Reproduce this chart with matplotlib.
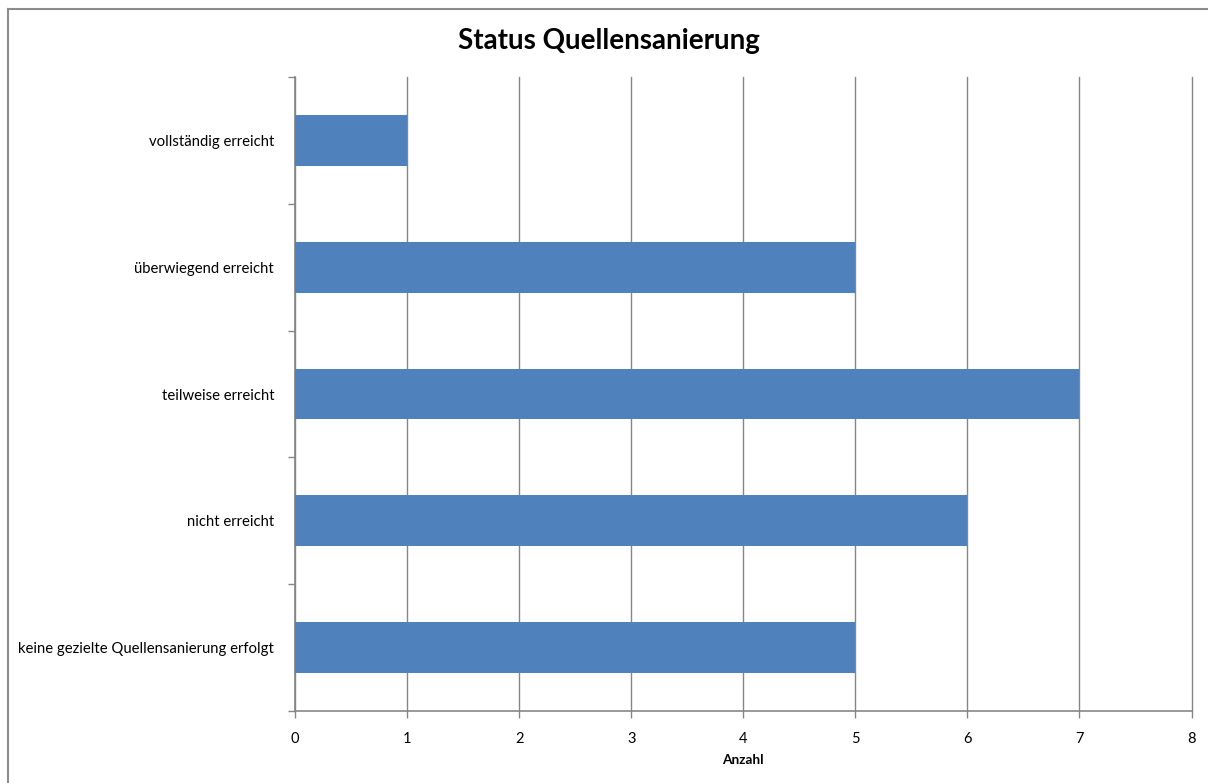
import numpy as np
import matplotlib
matplotlib.use("Agg")
from matplotlib import pyplot as plt
from matplotlib.lines import Line2D

categories = ["keine gezielte Quellensanierung erfolgt", "nicht erreicht",
              "teilweise erreicht", "überwiegend erreicht", "vollständig erreicht"]
counts = [5, 6, 7, 5, 1]
x_ticks = [0, 1, 2, 3, 4, 5, 6, 7, 8]

plt.rcParams['font.family'] = ['Lato', 'DejaVu Sans']

fig = plt.figure(figsize=(12.08, 7.83), dpi=100)
fig.patch.set_linewidth(0)
ax = fig.add_axes([295 / 1208, 1 - 711 / 783, 896.5 / 1208, 634 / 783])

grid_c = '#868686'
y = np.arange(len(categories))
ax.barh(y, counts, height=0.4, color='#4F81BD', zorder=3)

ax.set_xlim(0, 8)
ax.set_ylim(-0.5, len(categories) - 0.5)
ax.set_xticks(x_ticks)
ax.set_xticklabels([str(t) for t in x_ticks], fontsize=10.5)
ax.set_yticks(np.arange(-0.5, len(categories), 1.0))
ax.set_yticklabels([])
ax.set_yticks(y, minor=True)
ax.set_yticklabels(categories, minor=True, fontsize=10.7)
ax.tick_params(axis='y', which='minor', length=0, pad=15)
ax.tick_params(axis='y', which='major', length=5, color=grid_c, width=1)
ax.tick_params(axis='x', length=5, color=grid_c, width=1, pad=10)

ax.grid(axis='x', color=grid_c, linewidth=1, zorder=0)
for gl in ax.get_xgridlines():
    gl.set_clip_on(False)
for side in ['top', 'right']:
    ax.spines[side].set_visible(False)
for side in ['left', 'bottom']:
    ax.spines[side].set_color(grid_c)
    ax.spines[side].set_linewidth(1.2)

ax.set_xlabel("Anzahl", fontsize=9.8, fontweight='bold', labelpad=6)
fig.text(609 / 1208, 1 - 41 / 783, "Status Quellensanierung", ha='center', va='center',
         fontsize=20, fontweight='bold')

# chart frame, left and top edges only
fx, fy = 8 / 1208, 1 - 9 / 783
fig.lines.append(Line2D([fx, fx], [0, fy], transform=fig.transFigure, color='#8c8c8c', linewidth=1.5))
fig.lines.append(Line2D([fx, 0.999], [fy, fy], transform=fig.transFigure, color='#8c8c8c', linewidth=1.5))

fig.savefig('out.png', dpi=100)
